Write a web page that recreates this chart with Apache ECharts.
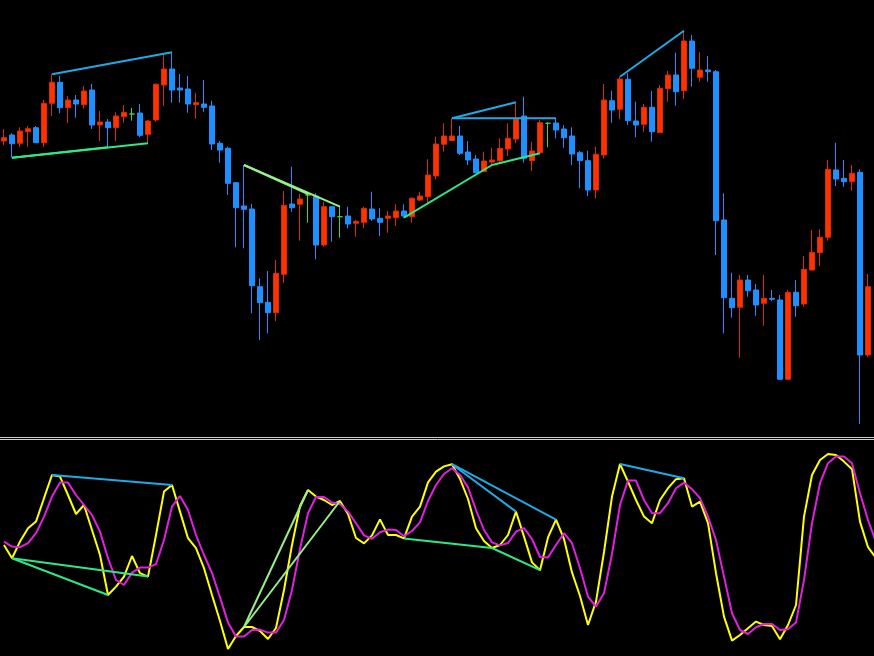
<!DOCTYPE html>
<html><head><meta charset="utf-8">
<script src="https://cdn.jsdelivr.net/npm/echarts@6/dist/echarts.min.js"></script>
<style>html,body{margin:0;padding:0;background:#000;}#c{width:874px;height:656px;}</style>
</head><body><div id="c"></div>
<script>
// price levels (arbitrary units), one entry per bar
const openP = [
296,302,293.7,305.3,309.3,294.3,333.7,354.7,329.3,337,
332.3,347,312,315,309.3,320.3,323,324,302.7,317,
352,368,349,348,332.3,333,331,293.7,288.7,254.3,
231,228,150.3,134.7,124.3,162.7,233,232.7,242,241,
192,230.3,220.3,221,213.7,214.7,228,218.7,218.7,219.3,
226,220.3,237,240.3,261,292.7,296.5,301,285,278,
265.3,275,276.3,288,298,321,276.3,284.3,313.7,314,
308,301,284.3,276.3,247,282,336.3,327.7,357.7,316,
312.7,329.7,304.3,348.3,362,346.3,396,359.7,367,365.3,
217,138.7,129.7,157,147,133.7,138.7,137,57.7,144.7,
133,167,184.3,199.7,267,258.7,255.3,264.7,82];
const closeP = [
299.3,293.3,306,308.3,294.3,333.7,354.7,329.3,337,333,
346,312,315,309.3,321,324.7,323,301.7,316,352.7,
368,347,347,333,334.3,329.7,293,287,253.7,229.3,
227.7,151.3,134.3,124.3,163.7,231.7,229.3,238,242,192,
230.3,220.3,220.3,213,215.7,228.7,218,214.7,221,226,
221,238.7,241,262,293,301,301,283.7,277,264.3,
276,277,288.7,298.7,317.7,278.7,286,314.3,313.7,307,
299.3,283,276.3,247,282.7,337,327,358,316.3,312,
329.7,305.3,348.7,362,345.3,396,368.7,367,365.3,216.3,
139.3,129.3,157,146.3,132,138.7,137.7,57.7,144.7,131.3,
167.7,184.7,199.7,267.7,258,255.3,263.7,82,150.3];
const lowP = [
292,279.3,289.7,290.3,294.3,289.7,321,323.7,313.7,319.3,
328.3,308,296,289.7,296,314.3,316.3,299.7,293.7,315.3,
331,334.3,334.3,324.3,318.3,325.3,287,274.3,242,189.7,
188.7,123.7,97,103.7,116,154.3,225.3,196.3,214.3,177.7,
190.3,195.3,199.3,208.7,200.3,208.7,216,201,204.3,211,
219.3,214.3,236,233.7,257.7,285.3,296,282,272,263.7,
265.3,272,274.3,281,293.7,274.3,266,283.7,289.7,298.7,
289.3,272,248.7,241,238.7,278.7,314.3,317.7,312,299.7,
305.3,295.3,304.3,335.3,331.3,338,350.3,355.3,355.3,182,
103.7,119.3,79.3,140.3,121.3,111.3,136,57.7,57.7,120.3,
130.3,166.3,171,196.3,251,250.3,246,13,79.7];
const highP = [
308,303.7,309.7,311,311,337,362.7,361,341,342,
351,353,326,318,324.7,332,329,333,317,353.7,
383,384.7,363,361,344.3,357,336.3,296,290.3,255,
272,233,158.7,166,177,246,270.3,243,243,243.7,
235.3,230.3,230.3,230.3,217,230.3,245.3,228.7,226,232.7,
232.7,239.7,245.3,277.7,300.3,313.7,318.7,311,296,282,
285.3,289.3,298.7,313.7,334.7,340.3,295.3,317,314.7,318.7,
312,309.7,286,286.3,290.3,353,346.3,360.3,363.7,335.3,
333,346,352,366,384.3,406.3,402,384.7,381,367,
243.7,164.3,162,162,153,162,147,142,147,157,
181,207,207.7,277,294.3,277,272,267.7,163];

// oscillator (0-100 style)
const mainLine = [
52.5,45.9,54.2,60.9,64.2,75.9,87.5,86.7,77.5,68,
72.5,60,47.5,27.5,31.7,36.7,47,38.4,36.7,57.5,
79.2,82.5,69.2,55.9,50.9,40.9,27.5,14.5,0.5,7,
11.5,11.5,9.5,5.5,11,30,52.5,72,80,76.7,
75,72.5,74.5,68,56,53.3,57.3,65.3,57.5,57.5,
55.8,66.7,71.7,83.8,89.2,91.8,92.9,85.5,75.5,60.9,
54.5,51,52.5,57.5,69.2,56.7,43.8,39.9,56.3,65.2,
55.5,38.8,27,12.5,24.2,49,76.7,93,84.2,75,
66.7,63.4,75,80.9,85.4,85.9,71.7,74.2,63.4,38.4,
16.7,4.7,7.5,10.9,14.2,12.5,12,5.4,12.5,22.5,
66.7,87.5,95,98,97.5,94.2,90.4,64.2,51.4,46];
const signalLine = [
54.2,51.7,51.4,53.4,58.4,66.7,76.7,83.7,83.7,77.5,
72.5,67.5,59.2,45.9,35,32.5,38.7,41.2,41.2,42.9,
55,71.7,77,70,57.5,47.5,38.5,26.3,13.8,6.7,
6.7,10,10.2,8.7,8.7,15,30,50.5,68.4,76.5,
76.5,73.7,73,69.2,63.4,57.3,55.6,58.9,60.2,60,
56.9,59.5,63.8,74.5,82.5,88,90.9,87.5,81.3,70,
60,53.8,52.3,53.5,59.2,60.9,55.5,46.5,46.3,52.5,
58.4,53.4,41,26.7,21.7,28.4,48,72.5,84.7,84.7,
75,68.4,68.4,73.4,80.9,83.7,80.4,75.9,66.7,55,
36.7,18.4,10,8,11.4,13,13,10,10.4,13.7,
35,63.4,83.4,93.4,96.7,96.7,93.4,78.4,65,54];

// divergence lines: bar indices, price anchor and colour
const divFrom  = [6, 56, 56, 77, 1, 1, 50, 61, 30, 30];
const divTo    = [21, 64, 69, 85, 13, 18, 61, 67, 38, 42];
const divKind  = ['high','high','high','high','low','low','low','low','high','high'];
const divColor = ['#1eaae6','#1eaae6','#1eaae6','#1eaae6','#2ee888','#2ee888','#2ee888','#2ee888','#98ee8c','#98ee8c'];

const nBars = 110;
const categories = [];
for (let i = 0; i < nBars; i++) categories.push(String(i));
const candles = openP.map((o, i) => [o, closeP[i], lowP[i], highP[i]]);

const series = [
  {
    type: 'candlestick', xAxisIndex: 0, yAxisIndex: 0, data: candles, barWidth: 5,
    itemStyle: {
      color: '#ff3300', color0: '#1e90ff',
      borderColor: '#dd2a00', borderColor0: '#1e90ff',
      borderColorDoji: '#33dd33', borderWidth: 1
    }
  },
  { type: 'line', xAxisIndex: 1, yAxisIndex: 1, data: mainLine, symbol: 'none',
    lineStyle: { color: '#ffff00', width: 2 }, z: 3 },
  { type: 'line', xAxisIndex: 1, yAxisIndex: 1, data: signalLine, symbol: 'none',
    lineStyle: { color: '#e020e0', width: 2 }, z: 4 }
];
for (let k = 0; k < divFrom.length; k++) {
  const a = divFrom[k], b = divTo[k];
  const src = divKind[k] === 'high' ? highP : lowP;
  series.push({ type: 'line', xAxisIndex: 0, yAxisIndex: 0, symbol: 'none', z: 5,
    data: [[a, src[a]], [b, src[b]]], lineStyle: { color: divColor[k], width: 2 } });
  series.push({ type: 'line', xAxisIndex: 1, yAxisIndex: 1, symbol: 'none', z: 5,
    data: [[a, mainLine[a]], [b, mainLine[b]]], lineStyle: { color: divColor[k], width: 2 } });
}

const hiddenAxis = { axisTick: { show: false }, axisLabel: { show: false }, splitLine: { show: false } };
const chart = echarts.init(document.getElementById('c'));
chart.setOption({
  backgroundColor: '#000000',
  animation: false,
  grid: [
    { left: 0, top: 0, width: 880, height: 437, outerBoundsMode: 'none', containLabel: false },
    { left: 0, top: 439, width: 880, height: 217, outerBoundsMode: 'none', containLabel: false }
  ],
  xAxis: [
    Object.assign({ type: 'category', gridIndex: 0, data: categories, boundaryGap: true,
      axisLine: { show: true, onZero: false, lineStyle: { color: '#d0d0d0', width: 1 } } }, hiddenAxis),
    Object.assign({ type: 'category', gridIndex: 1, data: categories, boundaryGap: true, position: 'top',
      axisLine: { show: true, onZero: false, lineStyle: { color: '#d0d0d0', width: 1 } } }, hiddenAxis)
  ],
  yAxis: [
    { type: 'value', gridIndex: 0, min: 0, max: 437, show: false },
    { type: 'value', gridIndex: 1, min: -3, max: 105.5, show: false }
  ],
  series: series
});
</script>
</body></html>
